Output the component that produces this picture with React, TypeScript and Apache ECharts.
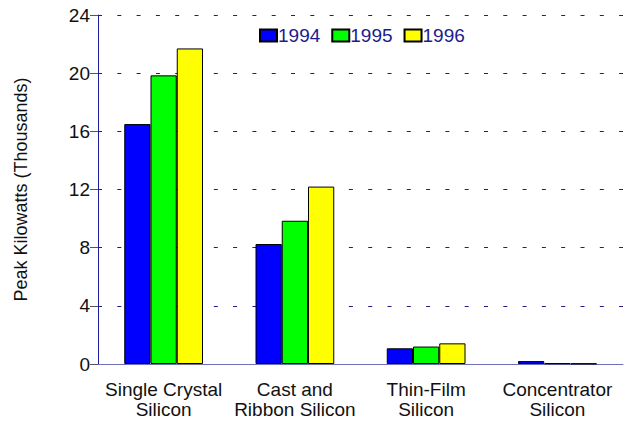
import React, { useEffect, useRef } from "react";
import * as echarts from "echarts";

const categories = ["Single Crystal\nSilicon", "Cast and\nRibbon Silicon", "Thin-Film\nSilicon", "Concentrator\nSilicon"];
const seriesNames = ["1994", "1995", "1996"];
const values1994 = [16.5, 8.25, 1.08, 0.2];
const values1995 = [19.85, 9.85, 1.2, 0.05];
const values1996 = [21.7, 12.2, 1.42, 0.03];
const colors = ["#0000ff", "#00ff00", "#ffff00"];
const yTicks = { min: 0, max: 24, interval: 4 };

const FONT = "Liberation Sans, Arial, sans-serif";

export default function App() {
  const ref = useRef<HTMLDivElement>(null);
  useEffect(() => {
    if (!ref.current) return;
    const chart = echarts.init(ref.current, null, { renderer: "svg" });
    const data = [values1994, values1995, values1996];
    chart.setOption({
      animation: false,
      textStyle: { fontFamily: FONT },
      grid: { left: 98, right: 2, top: 15, bottom: 59 },
      legend: {
        left: 259,
        top: 26,
        padding: 0,
        icon: "rect",
        itemWidth: 17,
        itemHeight: 12,
        itemGap: 11,
        data: seriesNames,
        textStyle: { fontFamily: FONT, fontSize: 19, color: "#1c1c8c", padding: [0, 0, 0, -4] },
      },
      xAxis: {
        type: "category",
        data: categories,
        axisLine: { lineStyle: { color: "#7070b8", width: 1 } },
        axisTick: { alignWithLabel: true, length: 7, lineStyle: { color: "#333" } },
        axisLabel: { interval: 0, fontFamily: FONT, fontSize: 19, color: "#111", lineHeight: 20, margin: 15 },
      },
      yAxis: {
        type: "value",
        min: yTicks.min,
        max: yTicks.max,
        interval: yTicks.interval,
        name: "Peak Kilowatts (Thousands)",
        nameLocation: "middle",
        nameGap: 68,
        nameTextStyle: { fontFamily: FONT, fontSize: 18, color: "#111" },
        axisLine: { show: true, lineStyle: { color: "#1c1c9c", width: 1 } },
        axisTick: { show: true, length: 8, lineStyle: { color: "#555" } },
        axisLabel: { fontFamily: FONT, fontSize: 19, color: "#111", margin: 8 },
        splitLine: { lineStyle: { color: "#1c1c8c", type: [4, 15.3], dashOffset: 0, width: 1 } },
      },
      series: seriesNames.map((name, i) => ({
        name,
        type: "bar",
        data: data[i],
        barGap: "0%",
        barCategoryGap: "40%",
        itemStyle: { color: colors[i], borderColor: "#000", borderWidth: 1 },
      })),
    });
    return () => chart.dispose();
  }, []);
  return <div ref={ref} style={{ width: 625, height: 423, position: "absolute", left: 0, top: 0 }} />;
}
